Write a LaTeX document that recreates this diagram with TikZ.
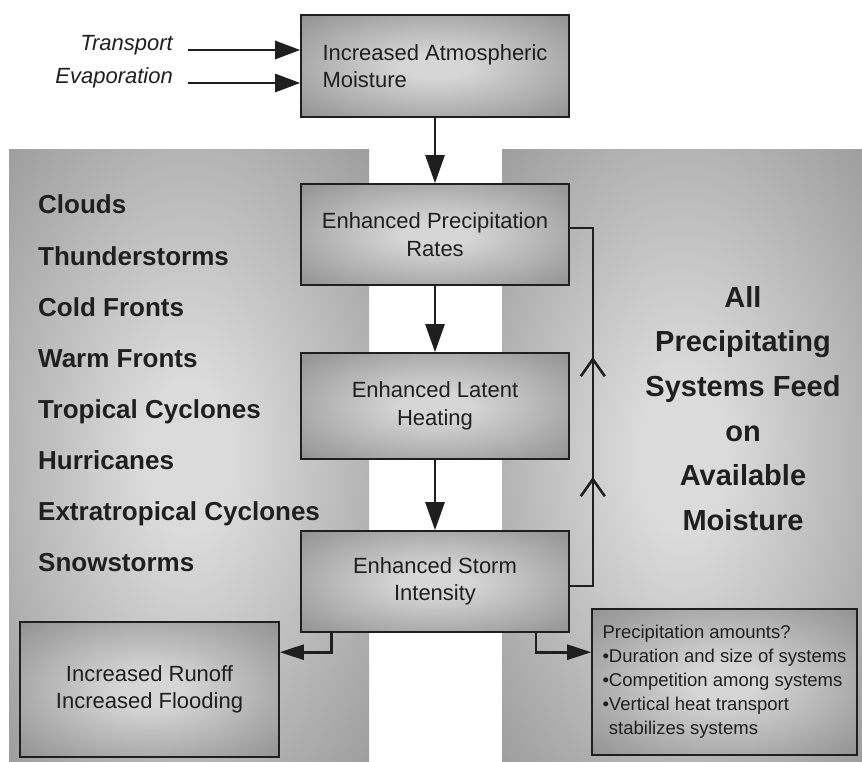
\documentclass[tikz,border=0pt]{standalone}
\usepackage{fontspec}
\setmainfont{Liberation Sans}
\usetikzlibrary{arrows.meta,decorations.markings,calc}
\definecolor{boxlight}{gray}{0.84}
\definecolor{boxdark}{gray}{0.44}
\definecolor{panellight}{gray}{0.86}
\definecolor{paneldark}{gray}{0.50}
\definecolor{ink}{gray}{0.12}
\pgfdeclareradialshading{boxshade}{\pgfpoint{0bp}{0bp}}{color(0bp)=(boxlight); color(6bp)=(boxlight); color(50bp)=(boxdark)}
\pgfdeclareradialshading{panelshade}{\pgfpoint{0bp}{0bp}}{color(0bp)=(panellight); color(6bp)=(panellight); color(50bp)=(paneldark)}
\begin{document}
\begin{tikzpicture}[x=1pt,y=-1pt,
  box/.style={draw=ink, line width=1.6pt, shade, shading=boxshade, align=center,
    font=\fontsize{22}{27.5}\selectfont, text=ink, inner sep=0pt},
  arrv/.style={line width=2.6pt, draw=ink, -{Triangle[length=28pt,width=19pt]}},
  arrh/.style={line width=2.6pt, draw=ink, -{Triangle[length=25pt,width=18pt]}},
  arrs/.style={line width=2.6pt, draw=ink, -{Triangle[length=24pt,width=15pt]}},
  fb/.style={line width=2.6pt, draw=ink, postaction={decorate},
    decoration={markings,
      mark=at position 132pt with {\arrow{Straight Barb[length=17pt,width=24pt]}},
      mark=at position 252pt with {\arrow{Straight Barb[length=17pt,width=24pt]}}}},
  listtext/.style={font=\bfseries\fontsize{26}{30}\selectfont, text=ink, inner sep=0pt},
  bigtext/.style={font=\bfseries\fontsize{29}{33}\selectfont, text=ink, inner sep=0pt},
  side/.style={font=\itshape\fontsize{22}{26}\selectfont, text=ink, inner sep=0pt}]
\useasboundingbox (0,0) rectangle (862,762);
\fill[white] (0,0) rectangle (862,762);
% panels
\shade[shading=panelshade] (9,150) rectangle (369,762);
\shade[shading=panelshade] (502,150) rectangle (862,762);
% boxes
\node[box, minimum width=268pt, minimum height=102pt, align=left] (atm) at (435,66) {Increased Atmospheric\\Moisture};
\node[box, minimum width=268pt, minimum height=101pt] (rate) at (435,234.5) {Enhanced Precipitation\\Rates};
\node[box, minimum width=268pt, minimum height=106pt] (heat) at (435,406) {Enhanced Latent\\Heating};
\node[box, minimum width=268pt, minimum height=101pt] (storm) at (435,581.5) {Enhanced Storm\\Intensity};
\node[box, minimum width=259pt, minimum height=135pt, font=\fontsize{22}{26.5}\selectfont] (flood) at (149.5,689.5) {Increased Runoff\\Increased Flooding};
\node[box, minimum width=265pt, minimum height=146pt, align=left, font=\fontsize{18.5}{24}\selectfont] (amt) at (724.5,682) {Precipitation amounts?\\•Duration and size of systems\\•Competition among systems\\•Vertical heat transport\\\phantom{•}stabilizes systems};
% side labels
\node[side, anchor=base east] (trl) at (173,51) {Transport};
\node[side, anchor=base east] (evl) at (173,84) {Evaporation};
\coordinate (trs) at (188,50);
\coordinate (evs) at (188,83);
\draw[arrh] (trs) -- (trs -| atm.west);
\draw[arrh] (evs) -- (evs -| atm.west);
% main chain
\draw[arrv] (atm.south) -- (rate.north);
\draw[arrv] (rate.south) -- (heat.north);
\draw[arrv] (heat.south) -- (storm.north);
% feedback
\draw[fb] ([yshift=-4.5pt]storm.east) -- ++(23,0) |- ([yshift=6.5pt]rate.east);
% outputs
\draw[arrs] ([xshift=31pt]storm.south west) |- ([yshift=-31pt]flood.north east);
\draw[arrs] ([xshift=-34pt]storm.south east) |- ([yshift=-44pt]amt.north west);
% left list
\foreach \t [count=\i] in {Clouds,Thunderstorms,Cold Fronts,Warm Fronts,Tropical Cyclones,Hurricanes,Extratropical Cyclones,Snowstorms}
  \node[listtext, anchor=base west] (L\i) at (38,{214+51.1*(\i-1)}) {\t};
% right text
\foreach \t [count=\i] in {All,Precipitating,Systems Feed,on,Available,Moisture}
  \node[bigtext, anchor=base] (R\i) at (743,{307+44.7*(\i-1)}) {\t};
\end{tikzpicture}
\end{document}
